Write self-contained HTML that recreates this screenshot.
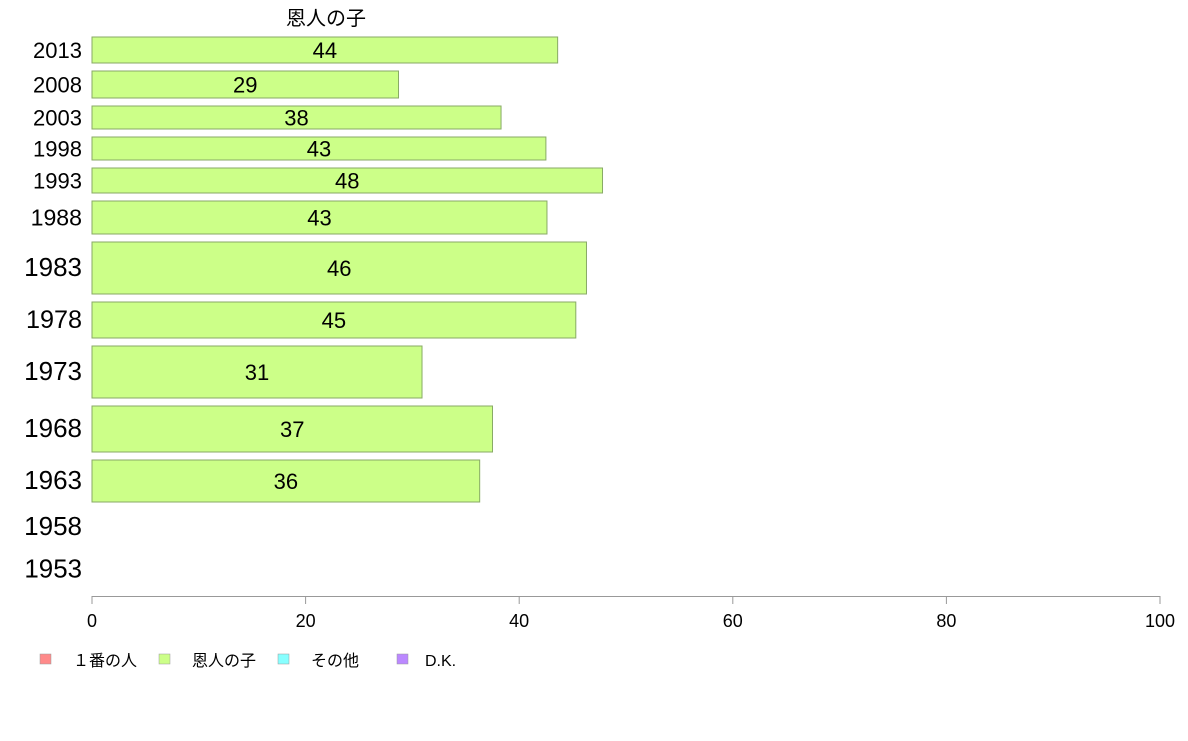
<!DOCTYPE html>
<html><head><meta charset="utf-8"><style>
body{margin:0;background:#fff;}
svg text{font-family:"Liberation Sans","Noto Sans CJK JP",sans-serif;}
</style></head><body>
<svg width="1188" height="736" xmlns="http://www.w3.org/2000/svg">
<text x="326" y="25" font-size="20" text-anchor="middle">恩人の子</text>
<g id="bars"></g>
<g id="axis"></g>
<g id="legend"></g>
</svg>
<script>
const years=["2013","2008","2003","1998","1993","1988","1983","1978","1973","1968","1963","1958","1953"];
const values=[43.6,28.7,38.3,42.5,47.8,42.6,46.3,45.3,30.9,37.5,36.3,null,null];
const labels=["44","29","38","43","48","43","46","45","31","37","36","",""];
const rowTop=[37,71,106,137,168,201,242,302,346,406,460,508,551];
const rowBottom=[63,98,129,160,193,234,294,338,398,452,502,546,588];
const ticks=[0,20,40,60,80,100];
const legendNames=["１番の人","恩人の子","その他","D.K."];
const legendColors=["#ff8a8a","#ccff88","#88ffff","#bb88ff"];
const NS="http://www.w3.org/2000/svg";
const x0=92,x1=1160;
const xs=v=>x0+(x1-x0)*v/100;
function mk(t,a,p){const e=document.createElementNS(NS,t);for(const k in a)e.setAttribute(k,a[k]);p.appendChild(e);return e;}
const bars=document.getElementById('bars');
years.forEach((y,i)=>{
  const cy=(rowTop[i]+rowBottom[i])/2;
  const fs=Math.min(26,Math.max(22,(rowBottom[i]-rowTop[i])*0.7));
  const yl=mk('text',{x:82,y:cy+8,'font-size':fs,'text-anchor':'end'},bars);
  yl.textContent=y;
  
  
  if(values[i]!=null){
    const r=mk('rect',{x:x0,y:rowTop[i],width:xs(values[i])-x0,height:rowBottom[i]-rowTop[i],fill:'#ccff88',stroke:'#88aa66','stroke-width':1},bars);
    
    
    const t=mk('text',{x:(x0+xs(values[i]))/2,y:cy+8,'font-size':22,'text-anchor':'middle'},bars);
    t.textContent=labels[i];
    
    
  }
});
const ax=document.getElementById('axis');
mk('line',{x1:x0,x2:x1,y1:596.5,y2:596.5,stroke:'#999'},ax);
ticks.forEach(t=>{
  mk('line',{x1:xs(t),x2:xs(t),y1:596,y2:604,stroke:'#999'},ax);
  const l=mk('text',{x:xs(t),y:627,'font-size':18,'text-anchor':'middle'},ax);
  l.textContent=t;
  
  
});
const lg=document.getElementById('legend');
legendNames.forEach((n,i)=>{
  const bx=40+i*119;
  const s=mk('rect',{x:bx,y:654,width:11,height:10,fill:legendColors[i],stroke:'#999','stroke-width':0.5},lg);
  
  
  const t=mk('text',{x:bx+(i==3?28:33),y:666,'font-size':16},lg);
  t.textContent=n;
  
  
});
</script>
</body></html>
